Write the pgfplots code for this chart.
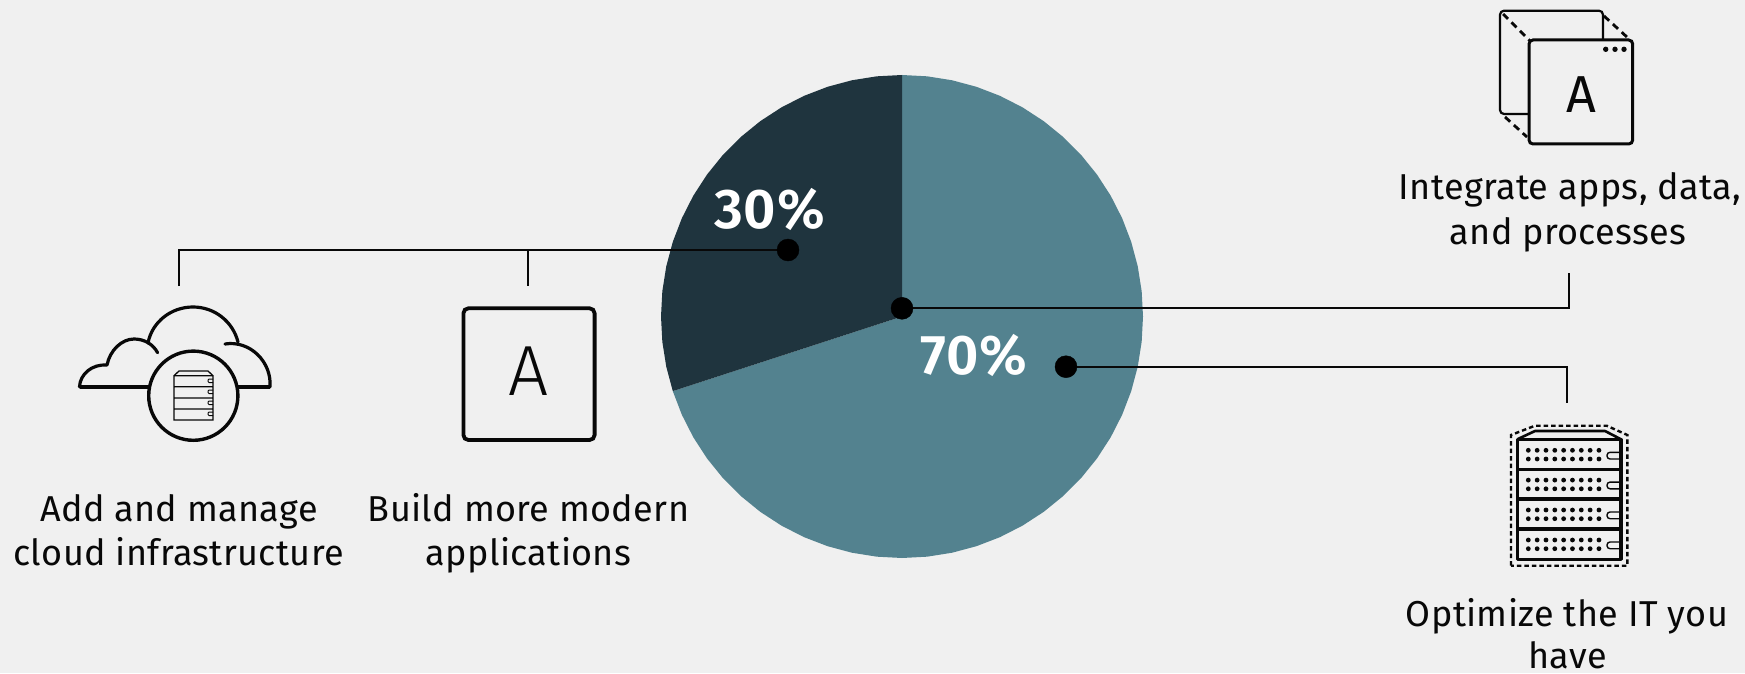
\documentclass[border=0pt]{standalone}
\usepackage{pgfplots}
\pgfplotsset{compat=1.18}
\usepackage{fontspec}
\setmainfont{Fira Sans}[LetterSpace=1.0]
\newfontfamily\lightf{Fira Sans Light}
\newfontfamily\semif{Fira Sans SemiBold}[LetterSpace=1.5]
\definecolor{bg}{RGB}{240,240,240}
\definecolor{pielight}{RGB}{83,130,143}
\definecolor{piedark}{RGB}{31,52,62}
\definecolor{ink}{RGB}{8,8,8}
\begin{document}
\begin{tikzpicture}
\useasboundingbox (0,0) rectangle (1745pt,673pt);
\fill[bg] (0,0) rectangle (1745pt,673pt);
% Pie: 30% = 108 degrees, 70% = 252 degrees, from the top, counter-clockwise
\begin{axis}[at={(902pt,356.5pt)},anchor=center,scale only axis,width=482pt,height=483pt,
  hide axis,clip=false,xmin=-1,xmax=1,ymin=-1,ymax=1,data cs=polar]
\addplot[fill=pielight,draw=none] coordinates {(0,0)(198,1)(204,1)(210,1)(216,1)(222,1)(228,1)(234,1)(240,1)(246,1)(252,1)(258,1)(264,1)(270,1)(276,1)(282,1)(288,1)(294,1)(300,1)(306,1)(312,1)(318,1)(324,1)(330,1)(336,1)(342,1)(348,1)(354,1)(360,1)(366,1)(372,1)(378,1)(384,1)(390,1)(396,1)(402,1)(408,1)(414,1)(420,1)(426,1)(432,1)(438,1)(444,1)(450,1)};
\addplot[fill=piedark,draw=none] coordinates {(0,0)(90,1)(96,1)(102,1)(108,1)(114,1)(120,1)(126,1)(132,1)(138,1)(144,1)(150,1)(156,1)(162,1)(168,1)(174,1)(180,1)(186,1)(192,1)(198,1)};
\end{axis}
% Leaders, dots and percentages, in reference pixels
\begin{axis}[at={(0,0)},anchor=south west,scale only axis,width=1745pt,height=673pt,
  hide axis,clip=false,xmin=0,xmax=1745,ymin=0,ymax=673,y dir=reverse]
\addplot[ink,line width=2pt,no markers] coordinates {(179,286)(179,250)(788,250)};
\addplot[ink,line width=2pt,no markers] coordinates {(528,250)(528,286)};
\addplot[ink,line width=2pt,no markers] coordinates {(902,308.3)(1569,308.3)(1569,272.7)};
\addplot[ink,line width=2pt,no markers] coordinates {(1066,366.5)(1566.7,366.5)(1566.7,402.7)};
\addplot[only marks,mark=*,mark size=11pt,black] coordinates {(788,250)(902,308.3)(1066,366.7)};
\node[white,anchor=base,font=\fontsize{56}{56}\selectfont\semif] at (axis cs:769.5,228) {30\%};
\node[white,anchor=base,font=\fontsize{56}{56}\selectfont\semif] at (axis cs:973.5,374) {70\%};
\end{axis}
\begin{scope}[x=1pt,y=-1pt,yshift=673pt,ink]
% text
\tikzset{lbl/.style={anchor=base,inner sep=0pt,font=\fontsize{36}{36}\selectfont}}
\node[lbl] at (179,521.7) {Add and manage};
\node[lbl] at (178.6,565) {cloud infrastructure};
\node[lbl] at (528.5,521.7) {Build more modern};
\node[lbl] at (528.5,565) {applications};
\node[lbl] at (1570,200) {Integrate apps, data,};
\node[lbl] at (1568,245) {and processes};
\node[lbl] at (1567,626.7) {Optimize the IT you};
\node[lbl] at (1567.5,668) {have};
% cloud icon
\draw[line width=3.2pt,line cap=round,line join=round]
  (79.5,387) .. controls (80,374) and (92,364) .. (107,365)
  .. controls (110,350) and (122,339) .. (134,339)
  .. controls (144,339) and (153,344) .. (157.6,352.7);
\draw[line width=3.2pt,line cap=round] (148,343) .. controls (152,322) and (171,307) .. (193,307)
  .. controls (215,307) and (233,322) .. (238,342);
\draw[line width=3.2pt,line cap=round] (225,344) .. controls (250,340) and (272,362) .. (270,387);
\draw[line width=3.2pt] (79.5,387) -- (150,387) (236,387) -- (270,387);
\draw[line width=3.4pt] (193.3,395.7) circle [radius=44.6];
\draw[line width=1.3pt] (174,375.7) -- (213,375.7) -- (213,420) -- (174,420) -- cycle
  (174,386.7) -- (213,386.7) (174,398) -- (213,398) (174,409) -- (213,409)
  (174,375.7) -- (179,371) -- (208,371) -- (213,375.7);
\foreach \y in {381,392,403,414}
  \draw[line width=1pt,rounded corners=1pt] (213,\y-2) -- (208,\y-2) -- (208,\y+1.5) -- (213,\y+1.5);
% box A
\draw[line width=3.8pt,rounded corners=5pt] (463.4,308.3) rectangle (594.6,440);
\node[anchor=base,inner sep=0pt,font=\fontsize{71}{71}\selectfont\lightf] at (528.5,395) {A};
% stacked windows
\draw[line width=2.2pt,rounded corners=4pt] (1500,10.7) rectangle (1603,114);
\draw[line width=2.8pt,dash pattern=on 7pt off 5pt] (1503,14) -- (1530,41);
\draw[line width=2.8pt,dash pattern=on 7pt off 5pt] (1604,16) -- (1628,38);
\draw[line width=2.8pt,dash pattern=on 7pt off 5pt] (1505,117) -- (1527,137);
\draw[line width=3pt,rounded corners=4pt,fill=bg] (1529,40) rectangle (1632.7,144);
\fill (1605.7,49.3) circle [radius=2.7] (1615,49.3) circle [radius=2.7] (1624,49.3) circle [radius=2.7];
\node[anchor=base,inner sep=0pt,font=\fontsize{52}{52}\selectfont] at (1581,112.7) {A};
% server
\draw[line width=2.4pt,dash pattern=on 4.5pt off 3pt] (1511,565.7) -- (1511,435) -- (1535,425.7) -- (1606.7,425.7) -- (1627.3,435) -- (1627.3,565.7) -- cycle;
\draw[line width=3.2pt,line join=round] (1517.3,439.3) rectangle (1621,559.3);
\draw[line width=2.6pt,line join=round] (1517.3,439.3) -- (1535,431) -- (1605,431) -- (1621,439.3);
\draw[line width=3.2pt] (1517.3,469.3) -- (1621,469.3) (1517.3,499) -- (1621,499) (1517.3,529) -- (1621,529);
\foreach \o in {0,29.8,59.7,89.7}{
  \foreach \i in {0,...,8}{
    \fill ({1528.3+8.83*\i},{450.3+\o}) circle [radius=2.4];
    \fill ({1528.3+8.83*\i},{459+\o}) circle [radius=2.4];
  }
  \draw[line width=1.4pt,rounded corners=3pt] (1621,{452.3+\o}) -- (1607,{452.3+\o}) -- (1607,{459+\o}) -- (1621,{459+\o});
}
\end{scope}
\end{tikzpicture}
\end{document}
